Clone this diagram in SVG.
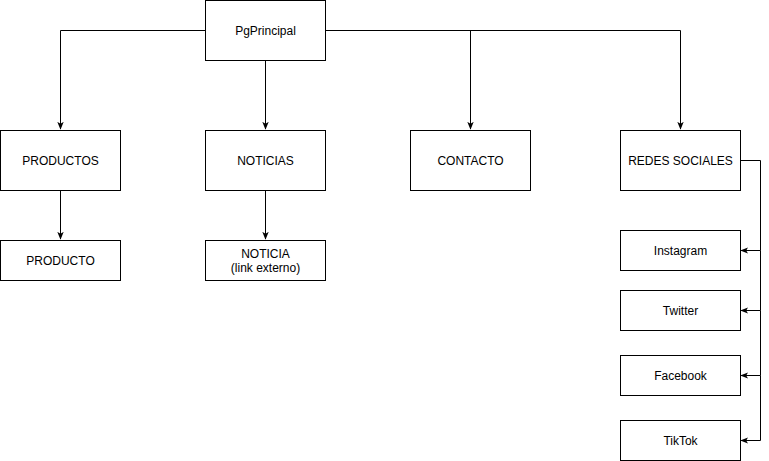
<svg xmlns="http://www.w3.org/2000/svg" width="769" height="461" viewBox="0 0 769 461">
<defs>
<style>
.n rect{fill:#fff;stroke:#000;stroke-width:1}
.n text{font-family:"Liberation Sans",Arial,sans-serif;font-size:12px;fill:#000;text-anchor:middle;dominant-baseline:central}
.c path{fill:none;stroke:#000;stroke-width:1}
</style>
<marker id="a" viewBox="0 0 10 10" refX="9" refY="5" markerWidth="8" markerHeight="8" markerUnits="userSpaceOnUse" orient="auto">
<path d="M0,1 L10,5 L0,9 L2.5,5 Z" fill="#000"/>
</marker>
</defs>
<rect width="769" height="461" fill="#fff"/>
<g class="c">
<path d="M205,30.5 H60.5 V129" marker-end="url(#a)"/>
<path d="M265.5,60 V129" marker-end="url(#a)"/>
<path d="M325,30.5 H680.5 V129" marker-end="url(#a)"/>
<path d="M470.5,30.5 V129" marker-end="url(#a)"/>
<path d="M60.5,190 V239" marker-end="url(#a)"/>
<path d="M265.5,190 V239" marker-end="url(#a)"/>
<path d="M740,160.5 H760.5 V250.5 H741" marker-end="url(#a)"/>
<path d="M760.5,250.5 V310.5 H741" marker-end="url(#a)"/>
<path d="M760.5,310.5 V375.5 H741" marker-end="url(#a)"/>
<path d="M760.5,375.5 V440.5 H741" marker-end="url(#a)"/>
</g>
<g id="pgprincipal" class="n"><rect x="205.5" y="0.5" width="120" height="60"/><text x="265.5" y="30.5">PgPrincipal</text></g>
<g id="productos" class="n"><rect x="0.5" y="130.5" width="120" height="60"/><text x="60.5" y="160.5">PRODUCTOS</text></g>
<g id="noticias" class="n"><rect x="205.5" y="130.5" width="120" height="60"/><text x="265.5" y="160.5">NOTICIAS</text></g>
<g id="contacto" class="n"><rect x="410.5" y="130.5" width="120" height="60"/><text x="470.5" y="160.5">CONTACTO</text></g>
<g id="redes" class="n"><rect x="620.5" y="130.5" width="120" height="60"/><text x="680.5" y="160.5">REDES SOCIALES</text></g>
<g id="producto" class="n"><rect x="0.5" y="240.5" width="120" height="40"/><text x="60.5" y="260.5">PRODUCTO</text></g>
<g id="noticia" class="n"><rect x="205.5" y="240.5" width="120" height="40"/><text x="265.5" y="253.5">NOTICIA</text><text x="265.5" y="267.5">(link externo)</text></g>
<g id="instagram" class="n"><rect x="620.5" y="230.5" width="120" height="40"/><text x="680.5" y="250.5">Instagram</text></g>
<g id="twitter" class="n"><rect x="620.5" y="290.5" width="120" height="40"/><text x="680.5" y="310.5">Twitter</text></g>
<g id="facebook" class="n"><rect x="620.5" y="355.5" width="120" height="40"/><text x="680.5" y="375.5">Facebook</text></g>
<g id="tiktok" class="n"><rect x="620.5" y="420.5" width="120" height="40"/><text x="680.5" y="440.5">TikTok</text></g>
</svg>
